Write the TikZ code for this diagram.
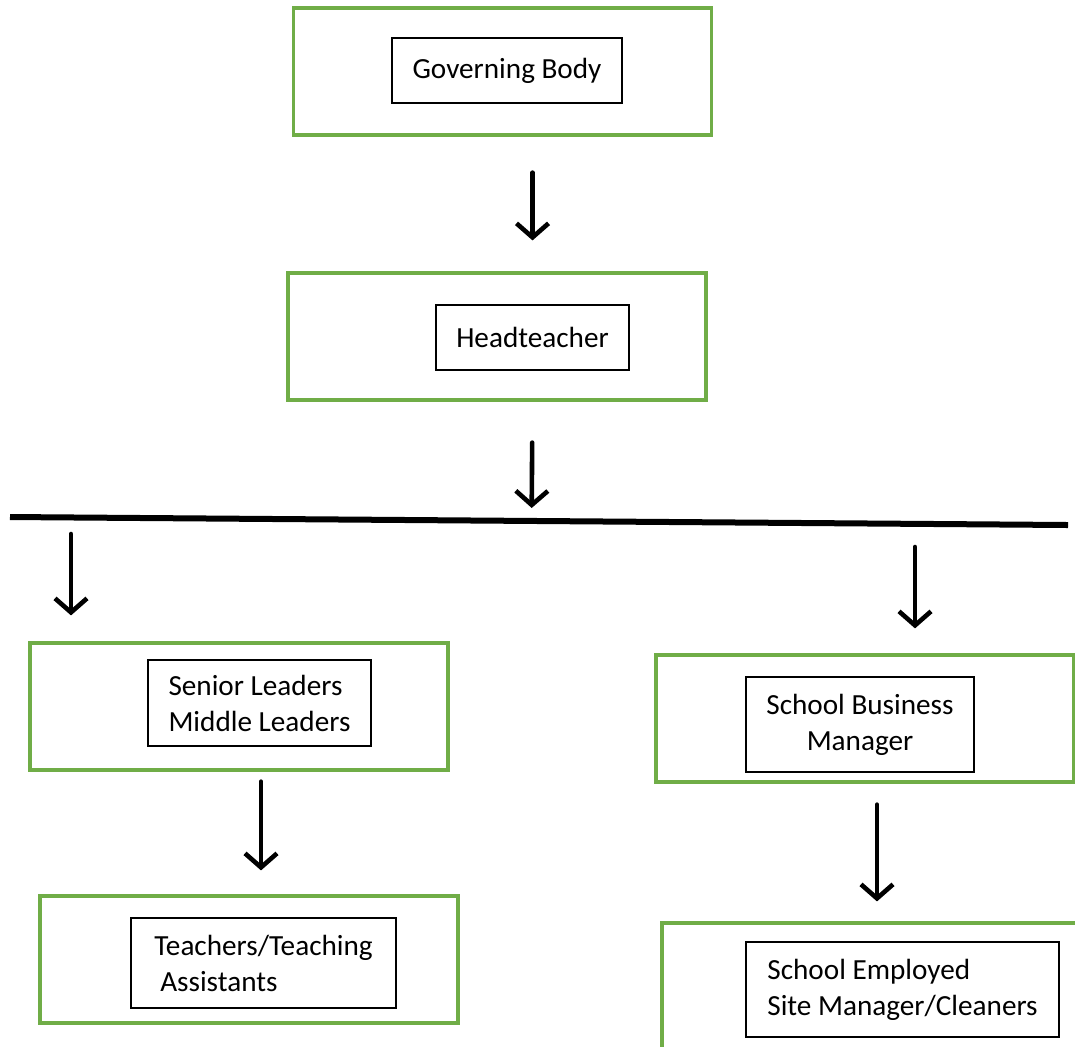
\documentclass[tikz,border=0pt]{standalone}
\usepackage{fontspec}
\setmainfont{Carlito}
\usetikzlibrary{arrows.meta, positioning, calc}
\definecolor{boxgreen}{RGB}{112,173,71}

\begin{document}
\begin{tikzpicture}[
    x=0.5pt, y=-0.5pt,
    outer/.style={rectangle, draw=boxgreen, line width=1.6pt,
                  minimum width=209pt, minimum height=63.5pt},
    inner/.style={rectangle, draw=black, line width=0.6pt, align=left,
                  font=\fontsize{14.6}{18}\selectfont},
    arr/.style={-{Straight Barb[length=7pt,width=16pt]}, line width=2.3pt,
                line cap=round}
]
\useasboundingbox (0,0) rectangle (1075,1046);
\clip (0,0) rectangle (1075,1046);

% top of the chart
\node[outer] (gov) at (502.5,71.5) {};
\node[inner, minimum width=115pt, minimum height=32.5pt] (govtxt) at (507,70.5) {Governing Body};
\node[outer] (head) at (497,336.5) {};
\node[inner, minimum width=96.5pt, minimum height=32.5pt] (headtxt) at (532.5,337.5) {Headteacher};

% the bar under the headteacher
\coordinate (barL) at (10,517);
\coordinate (barR) at (1068,525);
\coordinate (tapL) at (71,518);
\coordinate (tapR) at (915,524);
\draw[line width=3pt] (barL) -- (barR);

% two branches
\node[outer] (senior) at (239,706.5) {};
\node[inner, minimum width=111.5pt, minimum height=43pt] (seniortxt) at (259.5,703) {Senior Leaders\\Middle Leaders};
\node[outer] (sbm) at (865,718.5) {};
\node[inner, align=center, minimum width=114pt, minimum height=47.5pt] (sbmtxt) at (860,724.5) {School Business\\Manager};
\node[outer] (teach) at (249,959.5) {};
\node[inner, minimum width=132.5pt, minimum height=45pt] (teachtxt) at (263.5,963) {Teachers/Teaching\\\hspace{3pt}Assistants};
\node[outer] (site) at (871,986.5) {};
\node[inner, minimum width=156.5pt, minimum height=47.5pt] (sitetxt) at (902.5,989.5) {School Employed\\Site Manager/Cleaners};

% arrows
\draw[arr, shorten <=18pt, shorten >=15.5pt] (gov.south -| headtxt) -- (head.north -| headtxt);
\draw[arr, shorten <=20.5pt, shorten >=6.5pt] (head.south -| headtxt) -- ($(barL)!0.493!(barR)$);
\draw[arr, shorten <=8pt, shorten >=13pt] (tapL) -- (tapL |- senior.north);
\draw[arr, shorten <=11.5pt, shorten >=12.5pt] (tapR) -- (tapR |- sbm.north);
\draw[arr, shorten <=5pt, shorten >=12pt] ($(senior.south -| seniortxt)+(1.5,0)$) -- ($(teach.north -| seniortxt)+(1.5,0)$);
\draw[arr, shorten <=10.5pt, shorten >=10pt] ($(sbm.south -| site)+(6,0)$) -- ($(site.north)+(6,0)$);
\end{tikzpicture}
\end{document}
